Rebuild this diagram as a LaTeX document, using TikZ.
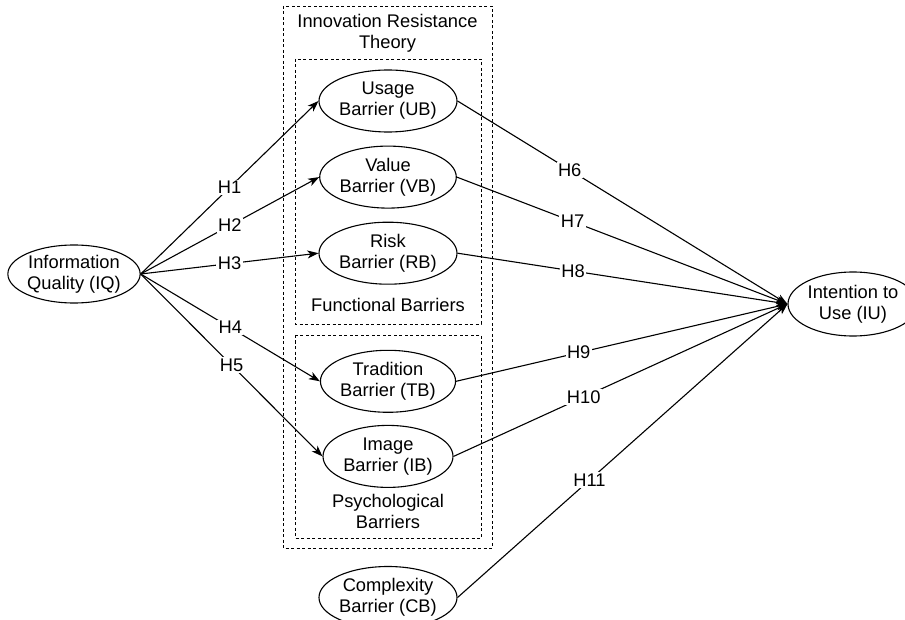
\documentclass[tikz,border=0pt]{standalone}
\usepackage{fontspec}
\setmainfont{Liberation Sans}
\usepackage{tikz}
\usetikzlibrary{positioning,arrows.meta,shapes.geometric}

\begin{document}
\begin{tikzpicture}[
  x=1pt, y=-1pt,
  font=\fontsize{18.3}{21}\selectfont,
  var/.style={draw, ellipse, line width=1.1pt, minimum width=130pt,
              minimum height=62pt, inner sep=0pt, align=center},
  grp/.style={draw, line width=0.9pt, dash pattern=on 3pt off 2.5pt},
  txt/.style={align=center, inner sep=0pt},
  hyp/.style={fill=white, inner sep=1.5pt},
  arr/.style={-{Stealth[length=11pt, width=8pt, inset=3pt]}, line width=1.1pt},
]
  \useasboundingbox (0,0) rectangle (905,620);

  % theory frames
  \draw[grp] (283,6) rectangle (492,548);
  \draw[grp] (295,59) rectangle (481,324);
  \draw[grp] (295,335) rectangle (481,538);
  \node[txt] (irt) at (387.5,33) {Innovation Resistance\\Theory};
  \node[txt] (fb) at (388,305) {Functional Barriers};
  \node[txt] (pb) at (388,511) {Psychological\\Barriers};

  % constructs
  \node[var, minimum width=129pt, minimum height=58pt] (iq) at (74,274) {Information\\Quality (IQ)};
  \node[var] (ub) at (388,101) {Usage\\Barrier (UB)};
  \node[var, below=13pt of ub] (vb) {Value\\Barrier (VB)};
  \node[var, below=13pt of vb] (rb) {Risk\\Barrier (RB)};
  \node[var, below=65pt of rb] (tb) {Tradition\\Barrier (TB)};
  \node[var, below=12pt of tb] (ib) {Image\\Barrier (IB)};
  \node[var, below=78pt of ib] (cb) {Complexity\\Barrier (CB)};
  \node[var, minimum height=64pt] (iu) at (853,304) {Intention to\\Use (IU)};

  % hypotheses
  \draw[arr] (iq.east) -- node[hyp] {H1} (ub.west);
  \draw[arr] (iq.east) -- node[hyp] {H2} (vb.west);
  \draw[arr] (iq.east) -- node[hyp] {H3} (rb.west);
  \draw[arr] (iq.east) -- node[hyp] {H4} (tb.west);
  \draw[arr] (iq.east) -- node[hyp] {H5} (ib.west);
  \draw[arr] (ub.east) -- node[hyp, pos=0.34] {H6} (iu.west);
  \draw[arr] (vb.east) -- node[hyp, pos=0.35] {H7} (iu.west);
  \draw[arr] (rb.east) -- node[hyp, pos=0.35] {H8} (iu.west);
  \draw[arr] (tb.east) -- node[hyp, pos=0.37] {H9} (iu.west);
  \draw[arr] (ib.east) -- node[hyp, pos=0.39] {H10} (iu.west);
  \draw[arr] (cb.east) -- node[hyp, pos=0.40] {H11} (iu.west);
\end{tikzpicture}
\end{document}
